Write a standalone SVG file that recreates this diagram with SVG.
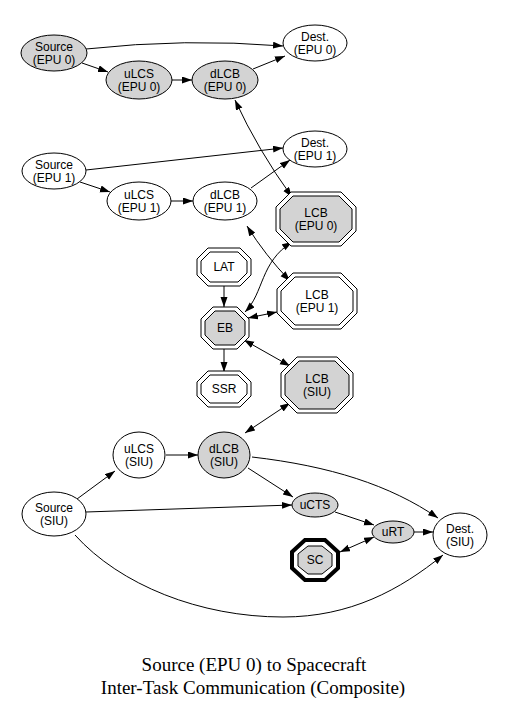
<svg xmlns="http://www.w3.org/2000/svg" width="505" height="708" viewBox="0 0 505 708">
<style>
.g{fill:#d3d3d3;stroke:#000;stroke-width:1}
.w{fill:#fff;stroke:#000;stroke-width:1}
.o{fill:none;stroke:#000;stroke-width:1}
text{font-family:"Liberation Sans",Arial,sans-serif;font-size:12px;text-anchor:middle;fill:#000}
.t{font-family:"Liberation Serif","Times New Roman",serif;font-size:19px}
#edges path{fill:none;stroke:#000;stroke-width:1;marker-end:url(#ah)}
#edges path.bi{marker-start:url(#ah)}
</style>
<defs>
<marker id="ah" markerUnits="userSpaceOnUse" markerWidth="11" markerHeight="8" refX="10" refY="3.5" orient="auto-start-reverse"><path d="M0,0 L10,3.5 L0,7 z" fill="#000"/></marker>
</defs>
<rect width="505" height="708" fill="#fff"/>
<g id="edges">
<path d="M86,49 Q185,38 283,46"/>
<path d="M82,63 L108,72"/>
<path d="M172,80 L192,80"/>
<path d="M253,69 L285,56"/>
<path class="bi" d="M235,100 Q258,150 292,197"/>
<path d="M86,170 L283,148"/>
<path d="M80,182 L110,192"/>
<path d="M171,201 L193,201"/>
<path d="M251,188 L290,160"/>
<path class="bi" d="M247,226 Q265,255 290,281"/>
<path class="bi" d="M245,312 C264,293 260,262 292,242"/>
<path d="M224,286 L224,307"/>
<path class="bi" d="M248,318 L277,312"/>
<path d="M224,349 L224,372"/>
<path class="bi" d="M244,340 L290,366"/>
<path class="bi" d="M245,433 L290,403"/>
<path d="M77,499 L115,471"/>
<path d="M166,455 L198,455"/>
<path d="M248,468 L293,497"/>
<path d="M252,457 C330,466 390,485 438,518"/>
<path d="M86,512 L292,505"/>
<path d="M335,512 L374,525"/>
<path d="M414,532 L433,532"/>
<path class="bi" d="M374,537 L340,552"/>
<path d="M75,535 C120,585 200,617 283,617 C350,617 400,590 443,555"/>
</g>
<g id="source_epu0"><ellipse class="g" cx="54" cy="53" rx="33" ry="18"/><text x="54" y="51">Source</text><text x="54" y="64">(EPU 0)</text></g>
<g id="ulcs_epu0"><ellipse class="g" cx="139" cy="80" rx="33" ry="19"/><text x="139" y="78">uLCS</text><text x="139" y="91">(EPU 0)</text></g>
<g id="dlcb_epu0"><ellipse class="g" cx="225" cy="80" rx="33" ry="19"/><text x="225" y="78">dLCB</text><text x="225" y="91">(EPU 0)</text></g>
<g id="dest_epu0"><ellipse class="w" cx="315" cy="43" rx="32" ry="18"/><text x="315" y="41">Dest.</text><text x="315" y="54">(EPU 0)</text></g>
<g id="source_epu1"><ellipse class="w" cx="54" cy="171" rx="32" ry="18"/><text x="54" y="169">Source</text><text x="54" y="182">(EPU 1)</text></g>
<g id="dest_epu1"><ellipse class="w" cx="315" cy="149" rx="32" ry="18"/><text x="315" y="147">Dest.</text><text x="315" y="160">(EPU 1)</text></g>
<g id="ulcs_epu1"><ellipse class="w" cx="139" cy="201" rx="32" ry="19"/><text x="139" y="199">uLCS</text><text x="139" y="212">(EPU 1)</text></g>
<g id="dlcb_epu1"><ellipse class="w" cx="225" cy="201" rx="32" ry="19"/><text x="225" y="199">dLCB</text><text x="225" y="212">(EPU 1)</text></g>
<g id="lcb_epu0" transform="translate(316,219)"><polygon class="w" points="-25,-27 25,-27 40,-12 40,12 25,27 -25,27 -40,12 -40,-12"/><polygon class="g" points="-23,-23 23,-23 36,-10 36,10 23,23 -23,23 -36,10 -36,-10"/><text x="0" y="-2">LCB</text><text x="0" y="11">(EPU 0)</text></g>
<g id="lcb_epu1" transform="translate(317,301)"><polygon class="w" points="-24,-28 24,-28 40,-12 40,12 24,28 -24,28 -40,12 -40,-12"/><polygon class="w" points="-22,-24 22,-24 36,-10 36,10 22,24 -22,24 -36,10 -36,-10"/><text x="0" y="-2">LCB</text><text x="0" y="11">(EPU 1)</text></g>
<g id="lcb_siu" transform="translate(317,385)"><polygon class="w" points="-20,-28 20,-28 36,-12 36,12 20,28 -20,28 -36,12 -36,-12"/><polygon class="g" points="-18,-24 18,-24 32,-10 32,10 18,24 -18,24 -32,10 -32,-10"/><text x="0" y="-2">LCB</text><text x="0" y="11">(SIU)</text></g>
<g id="lat" transform="translate(224,267)"><polygon class="w" points="-16,-19 16,-19 27,-8 27,8 16,19 -16,19 -27,8 -27,-8"/><polygon class="w" points="-14,-15 14,-15 23,-6 23,6 14,15 -14,15 -23,6 -23,-6"/><text x="0" y="4">LAT</text></g>
<g id="eb" transform="translate(225,328)"><polygon class="w" points="-12,-21 12,-21 24,-9 24,9 12,21 -12,21 -24,9 -24,-9"/><polygon class="g" points="-10,-17 10,-17 20,-7 20,7 10,17 -10,17 -20,7 -20,-7"/><text x="0" y="4">EB</text></g>
<g id="ssr" transform="translate(224,389)"><polygon class="w" points="-16,-18 16,-18 27,-7 27,7 16,18 -16,18 -27,7 -27,-7"/><polygon class="w" points="-14,-14 14,-14 23,-5 23,5 14,14 -14,14 -23,5 -23,-5"/><text x="0" y="4">SSR</text></g>
<g id="ulcs_siu"><ellipse class="w" cx="139" cy="455" rx="26" ry="23"/><text x="139" y="453">uLCS</text><text x="139" y="466">(SIU)</text></g>
<g id="dlcb_siu"><ellipse class="g" cx="224" cy="455" rx="26" ry="23"/><text x="224" y="453">dLCB</text><text x="224" y="466">(SIU)</text></g>
<g id="source_siu"><ellipse class="w" cx="54" cy="514" rx="32" ry="22"/><text x="54" y="512">Source</text><text x="54" y="525">(SIU)</text></g>
<g id="ucts"><ellipse class="g" cx="315" cy="505" rx="23" ry="12"/><text x="315" y="509">uCTS</text></g>
<g id="urt"><ellipse class="g" cx="393" cy="532" rx="21" ry="11"/><text x="393" y="536">uRT</text></g>
<g id="dest_siu"><ellipse class="w" cx="460" cy="535" rx="27" ry="22"/><text x="460" y="533">Dest.</text><text x="460" y="546">(SIU)</text></g>
<g id="sc" transform="translate(315,560)"><polygon fill="#fff" stroke="#000" stroke-width="4" points="-10,-20 10,-20 23,-8 23,8 10,20 -10,20 -23,8 -23,-8"/><polygon class="g" stroke-width="3" points="-7,-14 7,-14 17,-6 17,6 7,14 -7,14 -17,6 -17,-6"/><text x="0" y="4">SC</text></g>
<text class="t" x="254" y="671">Source (EPU 0) to Spacecraft</text>
<text class="t" x="253" y="694">Inter-Task Communication (Composite)</text>
</svg>
